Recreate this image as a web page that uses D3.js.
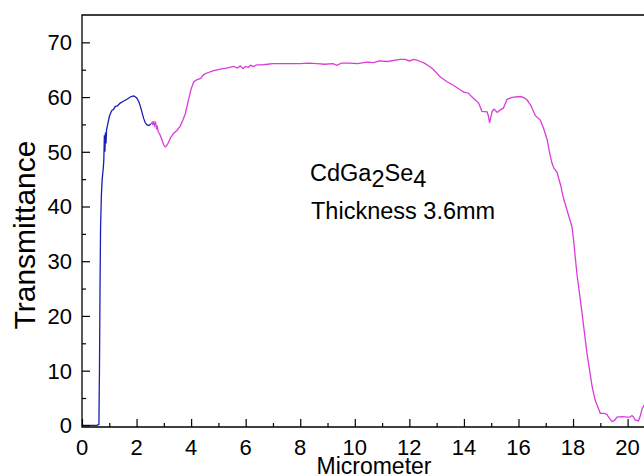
<!DOCTYPE html>
<html>
<head>
<meta charset="utf-8">
<script src="https://cdn.jsdelivr.net/npm/d3@7"></script>
<style>
  body { margin:0; background:#fff; }
  svg { display:block; font-family:"Liberation Sans", Arial, sans-serif; }
</style>
</head>
<body>
<div id="chart"></div>
<script>
// blue part of the scan (short wavelength)
var blueX = [0.00,0.55,0.62,0.64,0.66,0.68,0.71,0.74,0.78,0.80,0.82,0.84,0.86,0.88,0.90,0.95,1.00,1.05,1.10,1.15,1.22,1.30,1.40,1.50,1.65,1.80,1.90,2.00,2.08,2.14,2.20,2.26,2.32,2.38,2.45,2.52];
var blueY = [0,0,0.2,10,25,36,42,45,47,48.5,53,50,53.5,51.5,54,55.2,56.4,57.1,57.6,57.7,58.3,58.4,58.9,59.2,59.6,60.1,60.2,59.9,59.2,58.3,57.2,56.1,55.3,54.9,54.8,55.1];

// magenta part of the scan
var magX = [2.52,2.57,2.60,2.63,2.66,2.70,2.73,2.76,2.80,2.85,2.93,3.00,3.05,3.10,3.17,3.25,3.36,3.48,3.60,3.70,3.79,3.90,4.00,4.10,4.22,4.35,4.46,4.58,4.80,5.07,5.30,5.56,5.70,5.80,5.90,6.00,6.10,6.17,6.30,6.40,6.60,6.80,7.00,7.39,7.80,8.00,8.30,8.61,8.90,9.20,9.35,9.50,9.80,10.10,10.45,10.69,10.90,11.20,11.55,11.67,11.85,12.00,12.16,12.30,12.40,12.55,12.77,12.89,13.13,13.38,13.60,13.87,14.00,14.17,14.30,14.54,14.66,14.85,14.90,14.94,14.98,15.03,15.10,15.15,15.22,15.27,15.35,15.45,15.58,15.70,15.82,16.07,16.20,16.31,16.45,16.62,16.80,16.92,17.05,17.15,17.23,17.30,17.41,17.55,17.65,17.80,17.96,18.02,18.14,18.33,18.51,18.70,18.80,18.88,19.00,19.15,19.24,19.35,19.43,19.52,19.61,19.80,19.98,20.08,20.16,20.22,20.28,20.40,20.47,20.53,20.62];
var magY = [55.1,55.4,54.9,55.6,54.8,55.3,54.3,54.6,53.6,53.2,52.2,51.2,50.9,51.1,51.7,52.6,53.4,53.9,54.7,55.8,57.0,59.4,61.5,62.8,63.2,63.4,64.1,64.4,64.8,65.1,65.3,65.6,65.3,65.7,65.2,65.6,65.4,65.8,65.6,65.9,65.9,66.0,66.1,66.1,66.1,66.1,66.2,66.1,66.0,66.1,65.8,66.2,66.2,66.1,66.4,66.3,66.6,66.5,66.8,66.9,66.9,66.6,66.9,66.7,66.5,66.2,65.5,65.0,63.7,62.8,62.2,61.3,60.9,60.7,60.0,58.9,57.4,57.3,56.5,55.3,56.2,57.3,57.8,57.6,57.2,57.4,57.7,58.0,59.6,59.8,60.0,60.1,59.9,59.5,58.5,56.6,55.8,54.3,52.2,49.6,47.9,47.0,46.3,43.8,41.5,39.0,36.3,33.9,27.8,20.5,13.2,7.1,4.8,3.7,2.2,2.2,2.0,1.2,0.7,0.9,1.5,1.6,1.5,1.5,1.8,1.5,1.0,0.8,1.8,3.0,3.8];

var xTicks = d3.range(0, 21, 2);
var xMinor = d3.range(1, 21, 2);
var yTicks = d3.range(0, 71, 10);
var yMinor = d3.range(5, 71, 10);

var W = 644, H = 476;
var mLeft = 82, mTop = 15, mBottom = 427;

var svg = d3.select("#chart").append("svg")
    .attr("width", W)
    .attr("height", H);

var x = d3.scaleLinear().domain([0, 21]).range([mLeft, mLeft + 21 * 27.28]);
var y = d3.scaleLinear().domain([-0.3, 75]).range([mBottom, mTop]);

var line = d3.line()
    .x(function(d){ return x(d[0]); })
    .y(function(d){ return y(d[1]); });

var blue = blueX.map(function(v, i){ return [v, blueY[i]]; });
var mag = magX.map(function(v, i){ return [v, magY[i]]; });

svg.append("path")
    .datum(mag)
    .attr("fill", "none")
    .attr("stroke", "#d93cd9")
    .attr("stroke-width", 1.3)
    .attr("d", line);

svg.append("path")
    .datum(blue)
    .attr("fill", "none")
    .attr("stroke", "#1c1cb8")
    .attr("stroke-width", 1.3)
    .attr("d", line);

// axes, ticks inside the frame
svg.append("g")
    .attr("transform", "translate(0," + mBottom + ")")
    .call(d3.axisTop(x).tickValues(xTicks).tickSize(8).tickFormat(""));
svg.append("g")
    .attr("transform", "translate(0," + mBottom + ")")
    .call(d3.axisTop(x).tickValues(xMinor).tickSize(4).tickFormat(""));

svg.append("g")
    .attr("transform", "translate(" + mLeft + ",0)")
    .call(d3.axisRight(y).tickValues(yTicks).tickSize(8).tickFormat(""));
svg.append("g")
    .attr("transform", "translate(" + mLeft + ",0)")
    .call(d3.axisRight(y).tickValues(yMinor).tickSize(4).tickFormat(""));

svg.selectAll(".domain").remove();
svg.selectAll(".tick line").attr("stroke", "#000").attr("stroke-width", 1.2);

// frame
svg.append("path")
    .attr("d", "M" + W + "," + mTop + "H" + mLeft + "V" + mBottom + "H" + W)
    .attr("fill", "none")
    .attr("stroke", "#000")
    .attr("stroke-width", 1.3);

// tick labels
svg.append("g").selectAll("text")
    .data(xTicks)
    .enter().append("text")
    .attr("x", function(d){ return x(d); })
    .attr("y", 455)
    .attr("text-anchor", "middle")
    .attr("font-size", "22px")
    .text(function(d){ return d; });

svg.append("g").selectAll("text")
    .data(yTicks)
    .enter().append("text")
    .attr("x", 72)
    .attr("y", function(d){ return y(d); })
    .attr("dy", "0.36em")
    .attr("text-anchor", "end")
    .attr("font-size", "22px")
    .text(function(d){ return d; });

// axis titles
svg.append("text")
    .attr("transform", "translate(35,235) rotate(-90)")
    .attr("text-anchor", "middle")
    .attr("font-size", "30px")
    .text("Transmittance");

svg.append("text")
    .attr("x", 374)
    .attr("y", 474)
    .attr("text-anchor", "middle")
    .attr("font-size", "23px")
    .text("Micrometer");

// annotation
var label = svg.append("text")
    .attr("x", 310)
    .attr("y", 181)
    .attr("font-size", "23.5px");
label.append("tspan").text("CdGa");
label.append("tspan").attr("dy", 6).text("2");
label.append("tspan").attr("dy", -6).text("Se");
label.append("tspan").attr("dy", 6).text("4");

svg.append("text")
    .attr("x", 311)
    .attr("y", 219)
    .attr("font-size", "23.5px")
    .text("Thickness 3.6mm");
</script>
</body>
</html>
